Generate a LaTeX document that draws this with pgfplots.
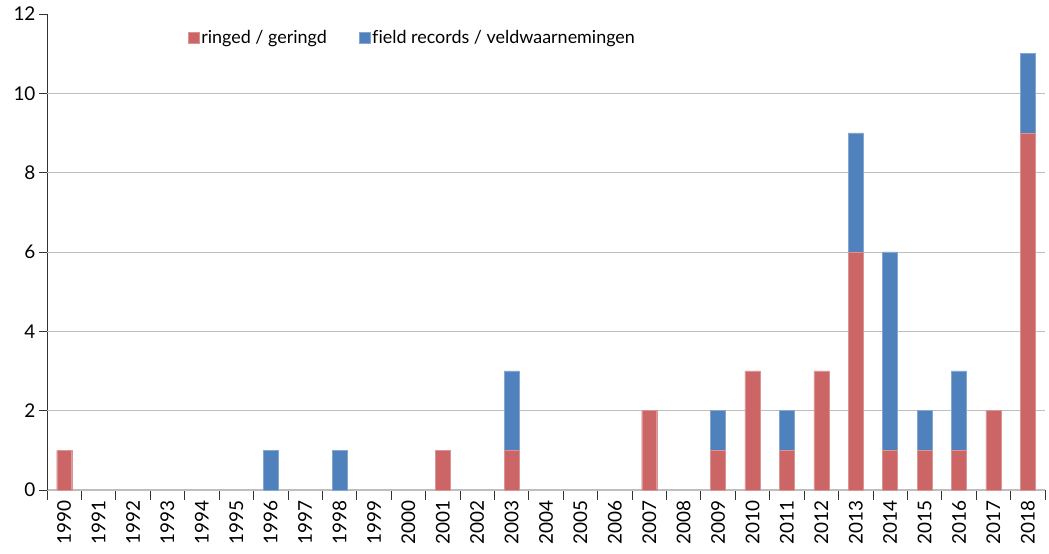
\documentclass[border=0pt]{standalone}
\usepackage{fontspec}
\setmainfont{Lato}[Ligatures=NoCommon]
\usepackage{pgfplots}
\pgfplotsset{compat=1.18}
\definecolor{cRed}{RGB}{204,102,102}
\definecolor{cBlue}{RGB}{79,129,189}
\definecolor{cGrid}{RGB}{190,190,190}
\begin{document}
\begin{tikzpicture}
\begin{axis}[
  scale only axis, width=998bp, height=476bp,
  ybar stacked, bar width=15bp,
  xmin=-0.5, xmax=28.5, ymin=0, ymax=12,
  axis lines*=left,
  x axis line style={cGrid, line width=1.2pt},
  y axis line style={black!80, line width=0.8pt},
  xtick={0,...,28},
  xticklabels={1990,1991,1992,1993,1994,1995,1996,1997,1998,1999,2000,2001,2002,2003,2004,2005,2006,2007,2008,2009,2010,2011,2012,2013,2014,2015,2016,2017,2018},
  x tick label style={rotate=90, anchor=east, font=\fontsize{19}{21}\selectfont, inner sep=2bp},
  major x tick style={draw=none},
  minor xtick={-0.5,0.5,...,28.5},
  minor x tick style={black!80, line width=0.8pt},
  minor tick length=10bp,
  xtick align=outside,
  ytick={0,2,...,12},
  ytick align=outside,
  major tick length=8bp,
  y tick style={black!80, line width=0.8pt},
  y tick label style={font=\fontsize{19}{21}\selectfont},
  /pgf/number format/assume math mode=true,
  extra y ticks={2,4,...,10}, extra y tick labels={},
  extra y tick style={ymajorgrids=true, major tick length=0pt},
  grid style={cGrid, line width=0.8pt},
  legend style={draw=none, fill=none, at={(0.138,0.95)}, anchor=west,
    font=\fontsize{18}{20}\selectfont, /tikz/every even column/.append style={column sep=30bp}},
  legend columns=2,
  legend image code/.code={\fill[#1] (-4bp,-5.5bp) rectangle (7bp,5.5bp);},
  legend cell align=left,
]
\addplot[fill=cRed, draw=cRed!70!white] coordinates {
(0,1)(1,0)(2,0)(3,0)(4,0)(5,0)(6,0)(7,0)(8,0)(9,0)(10,0)(11,1)(12,0)(13,1)(14,0)(15,0)(16,0)(17,2)(18,0)(19,1)(20,3)(21,1)(22,3)(23,6)(24,1)(25,1)(26,1)(27,2)(28,9)};
\addplot[fill=cBlue, draw=cBlue!70!white] coordinates {
(0,0)(1,0)(2,0)(3,0)(4,0)(5,0)(6,1)(7,0)(8,1)(9,0)(10,0)(11,0)(12,0)(13,2)(14,0)(15,0)(16,0)(17,0)(18,0)(19,1)(20,0)(21,1)(22,0)(23,3)(24,5)(25,1)(26,2)(27,0)(28,2)};
\legend{ringed / geringd, field records / veldwaarnemingen}
\end{axis}
\pgfresetboundingbox
\path (current axis.south west) ++(-47bp,-64bp) coordinate (bl);
\path (current axis.north east) ++(4bp,14bp) coordinate (tr);
\path[use as bounding box] (bl) rectangle (tr);
\end{tikzpicture}
\end{document}
